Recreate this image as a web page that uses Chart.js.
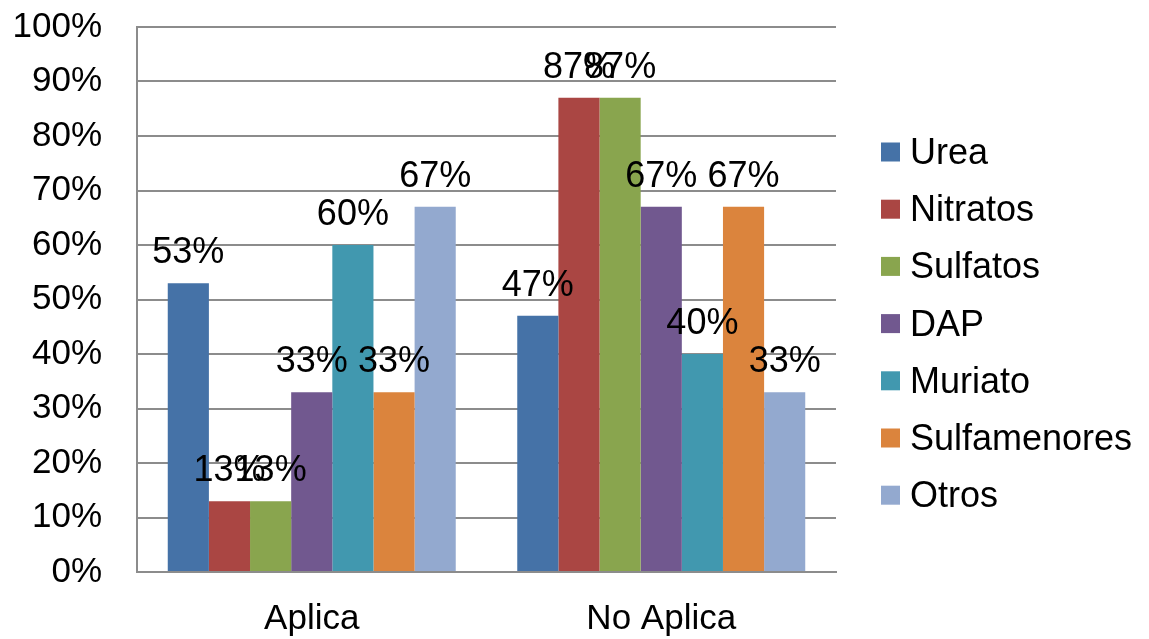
<!DOCTYPE html>
<html>
<head>
<meta charset="utf-8">
<script src="https://cdn.jsdelivr.net/npm/chart.js@4/dist/chart.umd.min.js"></script>
<style>
  html, body { margin: 0; padding: 0; background: #fff; }
  #wrap { width: 1149px; height: 639px; }
</style>
</head>
<body>
<div id="wrap"><canvas id="grafico" width="1149" height="639"></canvas></div>
<script>
// Categorías y series (porcentaje)
const categorias = ['Aplica', 'No Aplica'];
const series = ['Urea', 'Nitratos', 'Sulfatos', 'DAP', 'Muriato', 'Sulfamenores', 'Otros'];
const urea = [53, 47];
const nitratos = [13, 87];
const sulfatos = [13, 87];
const dap = [33, 67];
const muriato = [60, 40];
const sulfamenores = [33, 67];
const otros = [67, 33];
const colores = ['#4572A7', '#AA4643', '#89A54E', '#71588F', '#4198AF', '#DB843D', '#93A9CF'];

const valores = [urea, nitratos, sulfatos, dap, muriato, sulfamenores, otros];
const fuente = 'Arial, "Liberation Sans", sans-serif';

// Etiquetas de valor encima de cada barra
const etiquetasBarras = {
    id: 'etiquetasBarras',
    afterDatasetsDraw(chart) {
        const ctx = chart.ctx;
        ctx.save();
        ctx.font = '36px ' + fuente;
        ctx.fillStyle = '#000';
        ctx.textAlign = 'center';
        ctx.textBaseline = 'alphabetic';
        chart.data.datasets.forEach((ds, i) => {
            chart.getDatasetMeta(i).data.forEach((bar, j) => {
                ctx.fillText(ds.data[j] + '%', bar.x, bar.y - 20);
            });
        });
        ctx.restore();
    }
};

// Leyenda a la derecha
const leyenda = {
    id: 'leyenda',
    afterDraw(chart) {
        const ctx = chart.ctx;
        const area = chart.chartArea;
        const x = area.right + 45;
        let y = area.top + 125;
        ctx.save();
        ctx.font = '36px ' + fuente;
        ctx.textBaseline = 'middle';
        ctx.textAlign = 'left';
        chart.data.datasets.forEach(ds => {
            ctx.fillStyle = ds.backgroundColor;
            ctx.fillRect(x, y - 9.5, 19, 19);
            ctx.fillStyle = '#000';
            ctx.fillText(ds.label, x + 29, y + 2);
            y += 57.2;
        });
        ctx.restore();
    }
};

new Chart(document.getElementById('grafico'), {
    type: 'bar',
    data: {
        labels: categorias,
        datasets: series.map((nombre, i) => ({
            label: nombre,
            data: valores[i],
            backgroundColor: colores[i],
            borderWidth: 0,
            categoryPercentage: 0.824,
            barPercentage: 1
        }))
    },
    options: {
        responsive: false,
        animation: false,
        layout: { padding: { top: 27, right: 313, bottom: 0, left: 0 } },
        plugins: {
            legend: { display: false },
            tooltip: { enabled: false }
        },
        scales: {
            x: {
                grid: { display: false, drawTicks: false },
                border: { display: true, color: '#8c8c8c', width: 2 },
                ticks: { color: '#000', font: { size: 35, family: fuente }, padding: 26 },
                afterFit(scale) { scale.height = 67; }
            },
            y: {
                min: 0,
                max: 100,
                // marcas invisibles: sólo separan las etiquetas del eje
                grid: { color: '#8c8c8c', lineWidth: 2, drawTicks: true, tickLength: 35, tickColor: 'rgba(0,0,0,0)' },
                border: { display: true, color: '#8c8c8c', width: 2 },
                ticks: {
                    stepSize: 10,
                    color: '#000',
                    font: { size: 35, family: fuente },
                    padding: 0,
                    callback: v => v + '%'
                },
                afterFit(scale) { scale.width = 137; }
            }
        }
    },
    plugins: [etiquetasBarras, leyenda]
});
</script>
</body>
</html>
